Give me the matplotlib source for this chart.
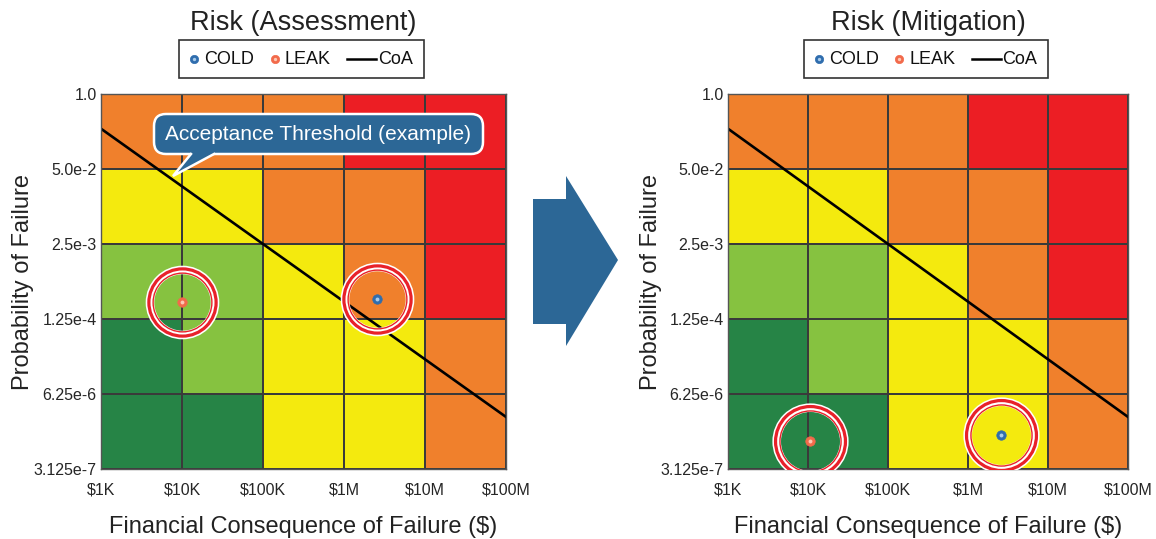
import matplotlib.pyplot as plt
import numpy as np
from matplotlib.colors import ListedColormap
from matplotlib.lines import Line2D
from matplotlib.patches import Polygon, FancyBboxPatch
from matplotlib.offsetbox import AnchoredOffsetbox, HPacker, DrawingArea, TextArea

plt.rcParams['font.family'] = ['Liberation Sans', 'DejaVu Sans']

# grid edges and tick labels
cost_edges = [1e3, 1e4, 1e5, 1e6, 1e7, 1e8]
cost_labels = ['$1K', '$10K', '$100K', '$1M', '$10M', '$100M']
prob_edges = [3.125e-7, 6.25e-6, 1.25e-4, 2.5e-3, 5.0e-2, 1.0]
prob_labels = ['3.125e-7', '6.25e-6', '1.25e-4', '2.5e-3', '5.0e-2', '1.0']

# risk level of each cell, bottom row first (0 = low, 4 = high)
risk_levels = [
    [0, 0, 2, 2, 3],
    [0, 1, 2, 2, 3],
    [1, 1, 2, 3, 4],
    [2, 2, 3, 3, 4],
    [3, 3, 3, 4, 4],
]
risk_colors = ['#268446', '#86C240', '#F4EA0E', '#F0802C', '#EC1E24']

# acceptance threshold line (CoA)
coa_cost = [1e3, 1e8]
coa_prob = [0.25, 2.5e-6]

# component positions: [assessment, mitigation]
panel_titles = ['Risk (Assessment)', 'Risk (Mitigation)']
cold_cost = [2.55e6, 2.55e6]
cold_prob = [2.75e-4, 1.22e-6]
leak_cost = [1.0e4, 1.05e4]
leak_prob = [2.5e-4, 9.6e-7]

COLD_C, COLD_HI = '#2F6DAE', '#A9CBEA'
LEAK_C, LEAK_HI = '#F26A4B', '#FCC8B4'
BLUE = '#2C6796'
RING = '#E8212A'

W, H = 1156, 539


def px(x, y):
    # pixel position (from top-left) -> inches for fig.dpi_scale_trans
    return (x / 100, (H - y) / 100)


def legend_box(ax):
    def dot(color, hi):
        da = DrawingArea(6, 10, 0, 0)
        da.add_artist(Line2D([3], [5], marker='o', ms=6.0, mfc=color, mec=color, mew=0.5))
        da.add_artist(Line2D([3], [5], marker='o', ms=2.4, mfc=hi, mec='none'))
        return da

    line = DrawingArea(21, 10, 0, 0)
    line.add_artist(Line2D([0, 21], [5, 5], color='black', lw=1.8))
    tp = dict(fontsize=13, color='#111111')
    items = [
        HPacker(children=[dot(COLD_C, COLD_HI), TextArea('COLD', textprops=tp)], sep=4, pad=0, align='center'),
        HPacker(children=[dot(LEAK_C, LEAK_HI), TextArea('LEAK', textprops=tp)], sep=4, pad=0, align='center'),
        HPacker(children=[line, TextArea('CoA', textprops=tp)], sep=1, pad=0, align='center'),
    ]
    packed = HPacker(children=items, sep=12, pad=0, align='center')
    box = AnchoredOffsetbox(loc='center', child=packed, pad=0.6, borderpad=0, frameon=True,
                            bbox_to_anchor=(0.495, 1.093), bbox_transform=ax.transAxes,
                            prop=dict(size=13))
    box.patch.set_edgecolor('#333333')
    box.patch.set_linewidth(1.2)
    ax.add_artist(box)


def draw_ring(ax, x, y, scale):
    # white halo with a double red ring
    ax.plot(x, y, 'o', ms=46.8 * scale, mfc='none', mec='white', mew=6.2, zorder=3)
    ax.plot(x, y, 'o', ms=48.4 * scale, mfc='none', mec=RING, mew=2.3, zorder=4)
    ax.plot(x, y, 'o', ms=42.3 * scale, mfc='none', mec=RING, mew=1.0, zorder=4)


def draw_panel(ax, i):
    ax.pcolormesh(cost_edges, prob_edges, np.array(risk_levels),
                  cmap=ListedColormap(risk_colors), vmin=-0.5, vmax=4.5,
                  edgecolors='#3a3a3a', linewidth=1.1, zorder=0)
    ax.set_xscale('log')
    ax.set_yscale('log')
    ax.set_xlim(cost_edges[0], cost_edges[-1])
    ax.set_ylim(prob_edges[0], prob_edges[-1])
    ax.set_xticks(cost_edges)
    ax.set_xticklabels(cost_labels)
    ax.set_yticks(prob_edges)
    ax.set_yticklabels(prob_labels)
    ax.minorticks_off()
    ax.tick_params(axis='both', length=0, labelsize=11.5, labelcolor='#262626')
    ax.tick_params(axis='x', pad=10)
    ax.tick_params(axis='y', pad=3)
    for s in ax.spines.values():
        s.set_color('#555555')
        s.set_linewidth(1.0)

    ax.plot(coa_cost, coa_prob, color='black', lw=1.9, zorder=2)

    scale = 1.0 if i == 0 else 1.04
    draw_ring(ax, leak_cost[i], leak_prob[i], scale)
    draw_ring(ax, cold_cost[i], cold_prob[i], scale)
    ax.plot(leak_cost[i], leak_prob[i], 'o', ms=6.8, mfc=LEAK_C, mec=LEAK_C, mew=0.5, zorder=5)
    ax.plot(leak_cost[i], leak_prob[i], 'o', ms=2.8, mfc=LEAK_HI, mec='none', zorder=6)
    ax.plot(cold_cost[i], cold_prob[i], 'o', ms=6.8, mfc=COLD_C, mec=COLD_C, mew=0.5, zorder=5)
    ax.plot(cold_cost[i], cold_prob[i], 'o', ms=2.8, mfc=COLD_HI, mec='none', zorder=6)

    ax.text(0.5, 1.19, panel_titles[i], transform=ax.transAxes, ha='center', va='center',
            fontsize=19.5, color='#222222')
    ax.set_xlabel('Financial Consequence of Failure ($)', fontsize=17, color='#222222')
    ax.xaxis.set_label_coords(0.5, -0.125)
    ax.set_ylabel('Probability of Failure', fontsize=17, color='#222222')
    ax.yaxis.set_label_coords(-0.165, 0.5)
    legend_box(ax)


fig = plt.figure(figsize=(W / 100, H / 100), dpi=100)
ax1 = fig.add_axes([101 / W, 70 / H, 405 / W, 375 / H])
ax2 = fig.add_axes([728 / W, 70 / H, 400 / W, 375 / H])
draw_panel(ax1, 0)
draw_panel(ax2, 1)

# big arrow between the panels
arrow_pts = [px(533, 199), px(566, 199), px(566, 176), px(618, 260),
             px(566, 346), px(566, 324), px(533, 324)]
fig.add_artist(Polygon(arrow_pts, closed=True, transform=fig.dpi_scale_trans,
                       fc=BLUE, ec='none'))

# callout bubble on the left panel
bx0, by0 = px(154, 154)
bubble = FancyBboxPatch((bx0, by0), 3.29, 0.40, boxstyle='round,pad=0,rounding_size=0.12',
                        transform=fig.dpi_scale_trans, fc=BLUE, ec='white', lw=1.8, zorder=10)
fig.add_artist(bubble)
tail = Polygon([px(191, 149), px(214, 149), px(214, 154), px(173, 176), px(191, 154)],
               closed=True, transform=fig.dpi_scale_trans, fc=BLUE, ec='none', zorder=11)
fig.add_artist(tail)
tx, ty = zip(px(191, 154), px(173, 176), px(214, 154))
fig.add_artist(Line2D(tx, ty, transform=fig.dpi_scale_trans, color='white', lw=1.8,
                      solid_joinstyle='miter', zorder=12))
fig.text(318.5 / W, 1 - 134 / H, 'Acceptance Threshold (example)', color='white',
         fontsize=15, ha='center', va='center', zorder=13)

fig.savefig('out.png', dpi=100)
